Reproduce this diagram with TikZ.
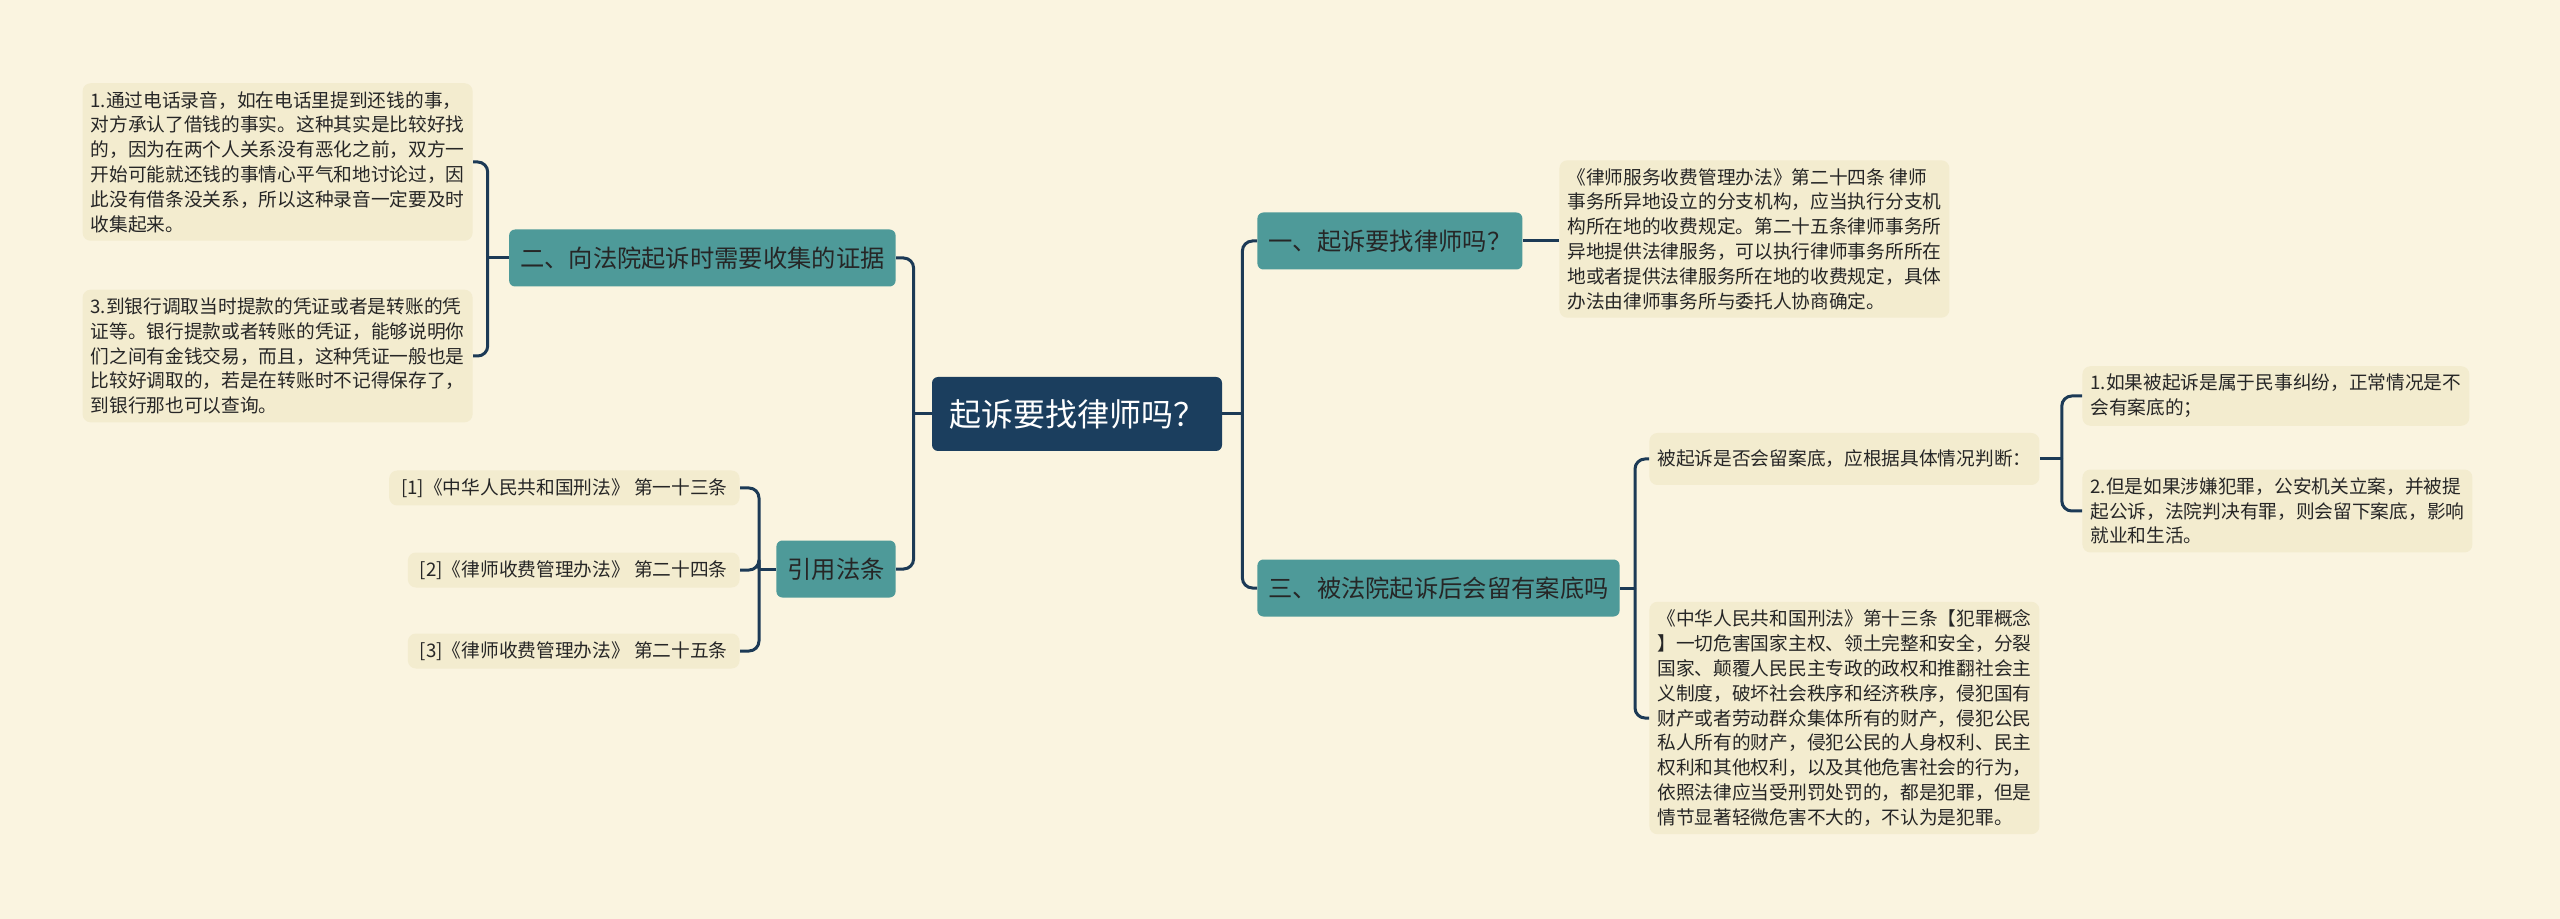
\documentclass[tikz,border=0pt]{standalone}
\usepackage{fontspec}
\setmainfont{Noto Sans CJK SC}
\definecolor{bg}{HTML}{FAF4E0}
\definecolor{leaffill}{HTML}{F3ECCF}
\definecolor{branchfill}{HTML}{4E9A99}
\definecolor{rootfill}{HTML}{1B3E5E}
\definecolor{linkcol}{HTML}{1C3A56}
\begin{document}
\begin{tikzpicture}[x=0.5pt,y=-0.5pt,
  topic/.style={fill=rootfill,text=white,rounded corners=3pt,minimum width=145pt,minimum height=37pt,font=\fontsize{16}{19}\selectfont},
  branch/.style={fill=branchfill,text=black!85,rounded corners=3pt,inner xsep=5.5pt,minimum height=28.5pt,font=\fontsize{12.15}{14}\selectfont},
  leaf/.style={fill=leaffill,text=black!85,rounded corners=4pt,inner xsep=4pt,inner ysep=4pt,align=left,font=\fontsize{9.35}{12.4}\selectfont},
  link/.style={draw=linkcol,line width=1.5pt,rounded corners=5pt}]
\fill[bg] (0,0) rectangle (2560,919);\useasboundingbox (0,0) rectangle (2560,919);
\node[topic] (root) at (1077,414) {起诉要找律师吗？};
\node[branch,anchor=west] (b1) at (1257,241) {一、起诉要找律师吗？};
\node[branch,anchor=west] (b3) at (1257,588) {三、被法院起诉后会留有案底吗};
\node[branch,anchor=east] (b2) at (896,258) {二、向法院起诉时需要收集的证据};
\node[branch,anchor=east] (b4) at (896,569) {引用法条};
\node[leaf,anchor=west] (t1) at (1559,239) {《律师服务收费管理办法》第二十四条 律师\\事务所异地设立的分支机构，应当执行分支机\\构所在地的收费规定。第二十五条律师事务所\\异地提供法律服务，可以执行律师事务所所在\\地或者提供法律服务所在地的收费规定，具体\\办法由律师事务所与委托人协商确定。};
\node[leaf,anchor=west,minimum height=26pt] (s1) at (1649,459) {被起诉是否会留案底，应根据具体情况判断：};
\node[leaf,anchor=west] (t2) at (1649,718) {《中华人民共和国刑法》第十三条【犯罪概念\\】一切危害国家主权、领土完整和安全，分裂\\国家、颠覆人民民主专政的政权和推翻社会主\\义制度，破坏社会秩序和经济秩序，侵犯国有\\财产或者劳动群众集体所有的财产，侵犯公民\\私人所有的财产，侵犯公民的人身权利、民主\\权利和其他权利，以及其他危害社会的行为，\\依照法律应当受刑罚处罚的，都是犯罪，但是\\情节显著轻微危害不大的，不认为是犯罪。};
\node[leaf,anchor=west] (l1) at (2082,396) {1.如果被起诉是属于民事纠纷，正常情况是不\\会有案底的；};
\node[leaf,anchor=west] (l2) at (2082,511) {2.但是如果涉嫌犯罪，公安机关立案，并被提\\起公诉，法院判决有罪，则会留下案底，影响\\就业和生活。};
\node[leaf,anchor=east] (e1) at (473,162) {1.通过电话录音，如在电话里提到还钱的事，\\对方承认了借钱的事实。这种其实是比较好找\\的，因为在两个人关系没有恶化之前，双方一\\开始可能就还钱的事情心平气和地讨论过，因\\此没有借条没关系，所以这种录音一定要及时\\收集起来。};
\node[leaf,anchor=east] (e3) at (473,356) {3.到银行调取当时提款的凭证或者是转账的凭\\证等。银行提款或者转账的凭证，能够说明你\\们之间有金钱交易，而且，这种凭证一般也是\\比较好调取的，若是在转账时不记得保存了，\\到银行那也可以查询。};
\foreach \i/\y/\lawname/\art in {1/488/中华人民共和国刑法/一十三,2/570/律师收费管理办法/二十四,3/651/律师收费管理办法/二十五}{\node[leaf,anchor=east,inner xsep=6pt] (c\i) at (740,\y) {[\i]《\lawname》 第\art 条};}
\draw[link] (root.east) -- ++(20,0) coordinate (rj);\foreach \n in {b1,b3}\draw[link] (rj) |- (\n.west);
\draw[link] (root.west) -- ++(-18,0) coordinate (lj);\foreach \n in {b2,b4}\draw[link] (lj) |- (\n.east);
\draw[link] (b1.east) -- (b1.east -| t1.west);
\draw[link] (b3.east) -- ++(15,0) coordinate (j3);\foreach \n in {s1,t2}\draw[link] (j3) |- (\n.west);
\draw[link] (s1.east) -- ++(22,0) coordinate (js);\foreach \n in {l1,l2}\draw[link] (js) |- (\n.west);
\draw[link] (b2.west) -- ++(-21,0) coordinate (j2);\foreach \n in {e1,e3}\draw[link] (j2) |- (\n.east);
\draw[link] (b4.west) -- ++(-17,0) coordinate (j4);\foreach \n in {c1,c2,c3}\draw[link] (j4) |- (\n.east);
\end{tikzpicture}
\end{document}
